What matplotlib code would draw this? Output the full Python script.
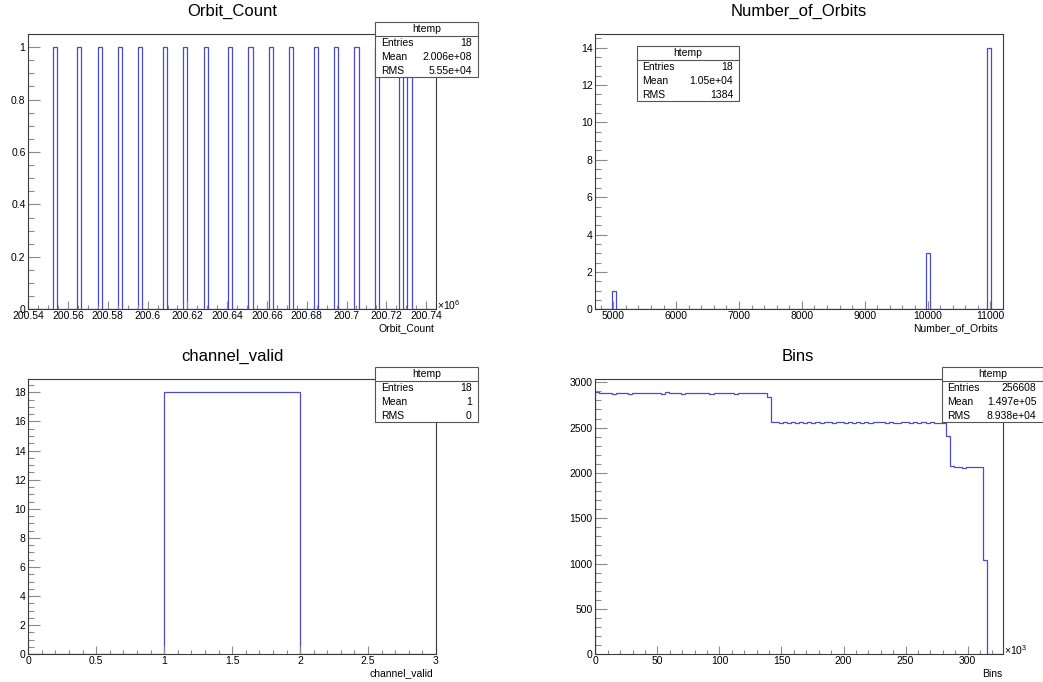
import numpy as np
import matplotlib
matplotlib.use("Agg")
import matplotlib.pyplot as plt
from matplotlib.patches import Rectangle
from matplotlib.lines import Line2D

plt.rcParams['font.family'] = ['Liberation Sans', 'DejaVu Sans']
plt.rcParams['mathtext.fontset'] = 'custom'
plt.rcParams['mathtext.rm'] = 'Liberation Sans'

W, H = 1043, 682
LINE = "#4b4bc8"
FRAME = "#3a3a3a"
TICK = "#8a8a8a"

orbit_count = [200553500, 200565800, 200576100, 200586300, 200596600, 200608900,
               200619100, 200629400, 200641700, 200651900, 200662200, 200672400,
               200684700, 200695000, 200705200, 200715500, 200727800, 200731900]

number_of_orbits = [5000, 10000, 10000, 10000,
                    11000, 11000, 11000, 11000, 11000, 11000, 11000,
                    11000, 11000, 11000, 11000, 11000, 11000, 11000]

channel_valid = [1, 1, 1, 1, 1, 1, 1, 1, 1, 1, 1, 1, 1, 1, 1, 1, 1, 1]

# 100 bin contents of "Bins" (x in units of 10^3)
bins_counts = [
    2893, 2878, 2884, 2881, 2876, 2887, 2879, 2883, 2875, 2886,
    2880, 2884, 2877, 2885, 2879, 2882, 2876, 2888, 2878, 2884,
    2880, 2875, 2886, 2881, 2877, 2885, 2879, 2883, 2876, 2887,
    2880, 2878, 2884, 2881, 2875, 2886, 2879, 2883, 2877, 2885,
    2880, 2884, 2834,
    2565, 2560, 2556, 2562, 2553, 2559, 2555, 2561, 2552, 2558,
    2556, 2562, 2554, 2560, 2557, 2551, 2559, 2563, 2555, 2558,
    2553, 2561, 2556, 2559, 2552, 2560, 2557, 2562, 2554, 2558,
    2556, 2550, 2559, 2561, 2555, 2557, 2553, 2560, 2556, 2558,
    2552, 2555, 2549,
    2411,
    2072, 2070, 2068, 2060, 2071, 2069, 2070, 2066,
    1037,
    0, 0, 0, 0,
]

stat_names = ["Entries", "Mean", "RMS"]
orbit_stats = ["18", "2.006e+08", "5.55e+04"]
norbits_stats = ["18", "1.05e+04", "1384"]
valid_stats = ["18", "1", "0"]
bins_stats = ["256608", "1.497e+05", "8.938e+04"]

fig = plt.figure(figsize=(W / 100, H / 100), dpi=100)


def px_axes(l, t, r, b):
    return fig.add_axes([l / W, 1 - b / H, (r - l) / W, (b - t) / H])


def style(ax, xmaj, xmin_, ymaj, ymin_):
    for s in ax.spines.values():
        s.set_color(FRAME)
        s.set_linewidth(0.8)
    ax.set_xticks(xmaj)
    ax.set_xticks(xmin_, minor=True)
    ax.set_yticks(ymaj)
    ax.set_yticks(ymin_, minor=True)
    ax.xaxis.set_major_formatter(lambda v, p: f"{v:g}")
    ax.yaxis.set_major_formatter(lambda v, p: f"{v:g}")
    ax.tick_params(axis="both", which="both", direction="in", color=TICK,
                   width=0.8, labelsize=7.5, top=False, right=False)
    ax.tick_params(axis="x", which="major", length=5.8, pad=1.5)
    ax.tick_params(axis="x", which="minor", length=2.9)
    ax.tick_params(axis="y", which="major", length=8.8, pad=2)
    ax.tick_params(axis="y", which="minor", length=4.4)


def stats_box(l, t, r, b, vals):
    fig.add_artist(Rectangle((l / W, 1 - b / H), (r - l) / W, (b - t) / H,
                             transform=fig.transFigure, facecolor="white",
                             edgecolor="#555555", lw=0.8, zorder=5))
    hy = t + 13.8
    fig.add_artist(Line2D([l / W, r / W], [1 - hy / H, 1 - hy / H],
                          transform=fig.transFigure, color="#555555", lw=0.8, zorder=6))
    fig.text((l + r) / 2 / W, 1 - (t + 7) / H, "htemp", ha="center", va="center",
             fontsize=7.5, zorder=7)
    for i, (name, v) in enumerate(zip(stat_names, vals)):
        y = 1 - (t + 20.8 + 14 * i) / H
        fig.text((l + 5.4) / W, y, name, ha="left", va="center", fontsize=7.5, zorder=7)
        fig.text((r - 6) / W, y, v, ha="right", va="center", fontsize=7.5, zorder=7)


def titles(cx, cy, title, axr, axy, axname):
    fig.text(cx / W, 1 - cy / H, title, ha="center", va="center", fontsize=12)
    fig.text(axr / W, 1 - axy / H, axname, ha="right", va="center", fontsize=7.5)


# --- Orbit_Count ---
ax1 = px_axes(28.3, 34, 436, 309.3)
c1, e1 = np.histogram(np.array(orbit_count) / 1e6, bins=100, range=(200.54, 200.745))
ax1.stairs(c1, e1, color=LINE, lw=0.9)
ax1.set_xlim(200.54, 200.745)
ax1.set_ylim(0, 1.05)
style(ax1, np.linspace(200.54, 200.74, 11), np.arange(200.54, 200.745, 0.005),
      np.arange(0, 1.01, 0.2), np.arange(0, 1.05, 0.05))
titles(232, 11, "Orbit_Count", 434, 328, "Orbit_Count")
fig.text(437 / W, 1 - 305 / H, r"$\times10^{6}$", ha="left", va="center", fontsize=7.5)
stats_box(375.3, 22.3, 477.7, 77.3, orbit_stats)

# --- Number_of_Orbits ---
ax2 = px_axes(595.3, 34, 1003, 309.3)
c2, e2 = np.histogram(number_of_orbits, bins=100, range=(4714, 11200))
ax2.stairs(c2, e2, color=LINE, lw=0.9)
ax2.set_xlim(4714, 11200)
ax2.set_ylim(0, 14.73)
style(ax2, np.arange(5000, 11001, 1000), np.arange(4800, 11200, 200),
      np.arange(0, 14.1, 2), np.arange(0, 14.7, 0.5))
titles(799, 11, "Number_of_Orbits", 998, 328, "Number_of_Orbits")
stats_box(636.7, 46.3, 739.3, 101.3, norbits_stats)

# --- channel_valid ---
ax3 = px_axes(28.3, 379.3, 436, 654.3)
c3, e3 = np.histogram(channel_valid, bins=3, range=(0, 3))
ax3.stairs(c3, e3, color=LINE, lw=0.9)
ax3.set_xlim(0, 3)
ax3.set_ylim(0, 18.9)
style(ax3, np.arange(0, 3.01, 0.5), np.arange(0, 3.01, 0.1),
      np.arange(0, 18.1, 2), np.arange(0, 18.9, 0.5))
titles(232.5, 356, "channel_valid", 433, 673, "channel_valid")
stats_box(375.3, 367.3, 477.7, 422.3, valid_stats)

# --- Bins ---
ax4 = px_axes(595.3, 379.3, 1003, 654.3)
e4 = np.linspace(0, 328.5, 101)
ax4.stairs(bins_counts, e4, color=LINE, lw=0.9)
ax4.set_xlim(0, 328.5)
ax4.set_ylim(0, 3033)
style(ax4, np.arange(0, 301, 50), np.arange(0, 328, 10),
      np.arange(0, 3001, 500), np.arange(0, 3033, 100))
titles(798, 356.5, "Bins", 1002, 674, "Bins")
fig.text(1004 / W, 1 - 650 / H, r"$\times10^{3}$", ha="left", va="center", fontsize=7.5)
stats_box(942, 367.3, 1042.5, 422.3, bins_stats)

fig.savefig("out.png", dpi=100)
